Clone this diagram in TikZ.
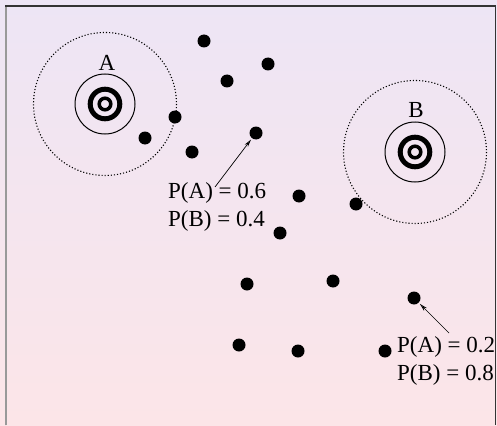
\documentclass[tikz,border=0pt]{standalone}
\usepackage{fontspec}
\setmainfont{Liberation Serif}
\usetikzlibrary{arrows.meta, positioning}

\definecolor{bgtop}{RGB}{237,229,245}
\definecolor{bgbottom}{RGB}{252,229,232}

\begin{document}
\begin{tikzpicture}[
x=1pt, y=-1pt,
dot/.style={circle, fill=black, inner sep=0pt, minimum size=13pt},
zone/.style={dotted, line width=1.1pt},
ring/.style={line width=1pt},
prob/.style={anchor=base west, inner sep=0pt, font=\fontsize{23}{28}\selectfont},
lbl/.style={inner sep=0pt, font=\fontsize{23}{28}\selectfont},
arrow/.style={-{Stealth[length=8pt, width=4pt, open]}, line width=0.7pt, shorten >=1.5pt}
]

\useasboundingbox (0,0) rectangle (497,425);
\shade[top color=bgtop, bottom color=bgbottom] (0,0) rectangle (497,425);

% frame
\draw[line width=1.3pt, black!80] (6,425) -- (6,6) -- (495.5,6) -- (495.5,425);
\draw[line width=1.3pt, black!40] (6,425) -- (6,6.6);

% clusters A and B
\coordinate (ca) at (105,104);
\coordinate (cb) at (415,152);
\node[lbl] (A) at (107,62.5) {A};
\node[lbl] (B) at (416,110) {B};

\foreach \c in {ca, cb} {
  \draw[zone] (\c) circle[radius=71.5];
  \draw[ring] (\c) circle[radius=30];
  \draw[line width=5pt] (\c) circle[radius=14.8];
  \draw[line width=3.5pt] (\c) circle[radius=5.8];
}

% data points
\foreach \n/\x/\y in {1/204/41, 2/268/64, 3/227/81, 4/175/117, 5/145/138,
  6/192/152, 7/256/133, 8/299/196, 9/356/204, 10/280/233, 11/247/284,
  12/333/281, 13/414/298, 14/239/345, 15/298/351, 16/385/351}
  \node[dot] (d\n) at (\x,\y) {};

% probabilities
\node[prob] (pa1) at (168,198) {P(A) = 0.6};
\node[prob] (pb1) at (168,226) {P(B) = 0.4};
\node[prob] (pa2) at (397,352) {P(A) = 0.2};
\node[prob] (pb2) at (397,380) {P(B) = 0.8};

\coordinate (t1) at (215,187);
\coordinate (t2) at (449,333);
\draw[arrow] (t1) -- (d7);
\draw[arrow] (t2) -- (d13);

\end{tikzpicture}
\end{document}
